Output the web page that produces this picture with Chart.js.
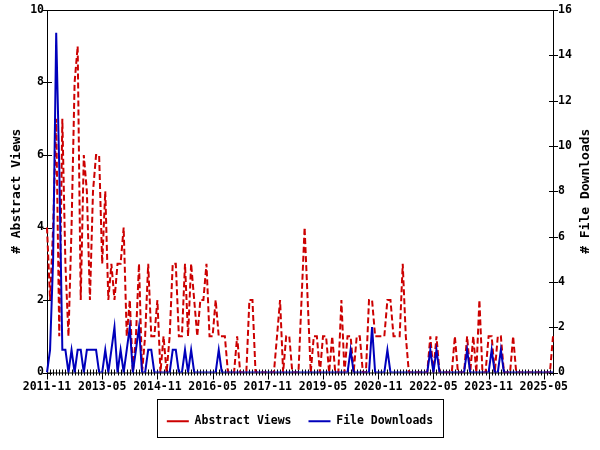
<!DOCTYPE html>
<html>
<head>
<meta charset="utf-8">
<script src="https://cdn.jsdelivr.net/npm/chart.js@4.4.0/dist/chart.umd.min.js"></script>
<style>
  html, body { margin: 0; padding: 0; background: #fff; }
</style>
</head>
<body>
<canvas id="chart" width="600" height="450"></canvas>
<script>
// monthly categories, 2011-11 .. 2025-08
const startYear = 2011, startMonth = 11, monthCount = 166;
const months = [];
for (let i = 0; i < monthCount; i++) {
    const m = startMonth - 1 + i;
    const y = startYear + Math.floor(m / 12);
    months.push(y + '-' + String(m % 12 + 1).padStart(2, '0'));
}

const tickLabels = ['2011-11', '2013-05', '2014-11', '2016-05', '2017-11',
    '2019-05', '2020-11', '2022-05', '2023-11', '2025-05'];

const abstractViews = [
    4, 2, 4, 7, 1, 7, 3, 1, 4, 8, 9, 2, 6, 5, 2, 5, 6, 6, 3, 5,
    2, 3, 2, 3, 3, 4, 1, 2, 0, 1, 3, 0, 1, 3, 1, 1, 2, 0, 1, 0,
    1, 3, 3, 1, 1, 3, 1, 3, 2, 1, 2, 2, 3, 1, 1, 2, 1, 1, 1, 0,
    0, 0, 1, 0, 0, 0, 2, 2, 0, 0, 0, 0, 0, 0, 0, 1, 2, 0, 1, 1,
    0, 0, 0, 2, 4, 2, 0, 1, 1, 0, 1, 1, 0, 1, 0, 0, 2, 0, 1, 1,
    0, 1, 1, 0, 0, 2, 2, 1, 1, 1, 1, 2, 2, 1, 1, 1, 3, 1, 0, 0,
    0, 0, 0, 0, 0, 1, 0, 1, 0, 0, 0, 0, 0, 1, 0, 0, 0, 1, 0, 1,
    0, 2, 0, 0, 1, 1, 0, 1, 1, 0, 0, 0, 1, 0, 0, 0, 0, 0, 0, 0,
    0, 0, 0, 0, 0, 1
];

const fileDownloads = [
    0, 1, 5, 15, 9, 1, 1, 0, 1, 0, 1, 1, 0, 1, 1, 1, 1, 0, 0, 1,
    0, 1, 2, 0, 1, 0, 1, 2, 0, 1, 2, 0, 0, 1, 1, 0, 0, 0, 0, 0,
    0, 1, 1, 0, 0, 1, 0, 1, 0, 0, 0, 0, 0, 0, 0, 0, 1, 0, 0, 0,
    0, 0, 0, 0, 0, 0, 0, 0, 0, 0, 0, 0, 0, 0, 0, 0, 0, 0, 0, 0,
    0, 0, 0, 0, 0, 0, 0, 0, 0, 0, 0, 0, 0, 0, 0, 0, 0, 0, 0, 1,
    0, 0, 0, 0, 0, 0, 2, 0, 0, 0, 0, 1, 0, 0, 0, 0, 0, 0, 0, 0,
    0, 0, 0, 0, 0, 1, 0, 1, 0, 0, 0, 0, 0, 0, 0, 0, 0, 1, 0, 0,
    0, 0, 0, 0, 0, 1, 0, 0, 1, 0, 0, 0, 0, 0, 0, 0, 0, 0, 0, 0,
    0, 0, 0, 0, 0, 0
];

const MONO = 'DejaVu Sans Mono';
const tickFont = { family: MONO, weight: 'bold', size: 11.5 };
const titleFont = { family: MONO, weight: 'bold', size: 13 };

// frame around the plot and the little tick marks crossing the axes
const frameTicks = {
    id: 'frameTicks',
    beforeDatasetsDraw(chart) {
        const { ctx, chartArea: a, scales } = chart;
        ctx.save();
        ctx.strokeStyle = '#000';
        ctx.lineWidth = 1;
        ctx.strokeRect(a.left + 0.5, a.top + 0.5, a.right - a.left, a.bottom - a.top);
        ctx.beginPath();
        months.forEach((m, i) => {
            const x = Math.round(scales.x.getPixelForValue(i)) + 0.5;
            const major = tickLabels.includes(m);
            ctx.moveTo(x, a.bottom - 3);
            ctx.lineTo(x, a.bottom + (major ? 7 : 3));
        });
        scales.y.ticks.forEach(t => {
            const y = Math.round(scales.y.getPixelForValue(t.value)) + 0.5;
            ctx.moveTo(a.left - 4, y);
            ctx.lineTo(a.left + 5, y);
        });
        scales.y1.ticks.forEach(t => {
            const y = Math.round(scales.y1.getPixelForValue(t.value)) + 0.5;
            ctx.moveTo(a.right - 4, y);
            ctx.lineTo(a.right + 5, y);
        });
        ctx.stroke();

        // right axis title, reading bottom to top like the left one
        ctx.fillStyle = '#000';
        ctx.font = 'bold 13px "' + MONO + '"';
        ctx.textAlign = 'center';
        ctx.textBaseline = 'middle';
        ctx.translate(586, (a.top + a.bottom) / 2);
        ctx.rotate(-Math.PI / 2);
        ctx.fillText('# File Downloads', 0, 0);
        ctx.restore();
    }
};

// box around the legend
const legendBox = {
    id: 'legendBox',
    afterDraw(chart) {
        const lg = chart.legend;
        const ctx = chart.ctx;
        const cx = (lg.left + lg.right) / 2;
        ctx.save();
        ctx.strokeStyle = '#000';
        ctx.lineWidth = 1;
        ctx.strokeRect(Math.round(cx - 143) + 0.5, Math.round(lg.top) + 0.5, 286, Math.round(lg.height) - 1);
        ctx.restore();
    }
};

new Chart(document.getElementById('chart'), {
    type: 'line',
    data: {
        labels: months,
        datasets: [{
            label: 'Abstract Views',
            data: abstractViews,
            yAxisID: 'y',
            borderColor: '#cc0000',
            backgroundColor: '#cc0000',
            borderWidth: 2,
            borderDash: [6, 3],
            pointRadius: 0,
            tension: 0,
            fill: false,
            order: 1
        }, {
            label: 'File Downloads',
            data: fileDownloads,
            yAxisID: 'y1',
            borderColor: '#0000bb',
            backgroundColor: '#0000bb',
            borderWidth: 2,
            pointRadius: 0,
            tension: 0,
            fill: false,
            order: 0
        }]
    },
    options: {
        responsive: false,
        animation: false,
        layout: { padding: { top: 10, bottom: 13, left: 0, right: 0 } },
        plugins: {
            tooltip: { enabled: false },
            legend: {
                position: 'bottom',
                labels: {
                    usePointStyle: true,
                    pointStyle: 'line',
                    pointStyleWidth: 22,
                    padding: 17,
                    color: '#000',
                    font: tickFont,
                    sort: (a, b) => a.datasetIndex - b.datasetIndex
                }
            }
        },
        scales: {
            x: {
                grid: { display: false, drawTicks: false },
                border: { display: false },
                afterFit: s => { s.height = 26; },
                ticks: {
                    autoSkip: false,
                    maxRotation: 0,
                    padding: 8,
                    color: '#000',
                    font: tickFont,
                    callback: (v, i) => tickLabels.includes(months[i]) ? months[i] : ''
                }
            },
            y: {
                position: 'left',
                min: 0,
                max: 10,
                grid: { display: false, drawTicks: false },
                border: { display: false },
                afterFit: s => { s.width = 47; s.paddingTop = 0; s.paddingBottom = 0; },
                ticks: { stepSize: 2, padding: 3, color: '#000', font: tickFont },
                title: { display: true, text: '# Abstract Views', color: '#000', font: titleFont, padding: { top: 9, bottom: 0 } }
            },
            y1: {
                position: 'right',
                min: 0,
                max: 16,
                grid: { display: false, drawTicks: false },
                border: { display: false },
                afterFit: s => { s.width = 47; s.paddingTop = 0; s.paddingBottom = 0; },
                ticks: { stepSize: 2, padding: 5, color: '#000', font: tickFont },
                title: { display: false }
            }
        }
    },
    plugins: [frameTicks, legendBox]
});
</script>
</body>
</html>
